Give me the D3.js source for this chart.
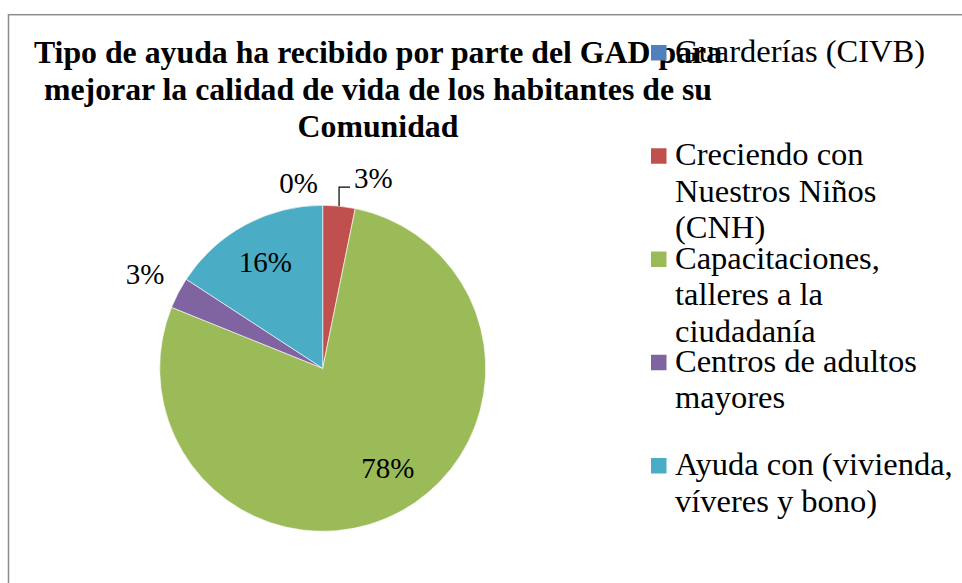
<!DOCTYPE html>
<html>
<head>
<meta charset="utf-8">
<script src="https://cdn.jsdelivr.net/npm/d3@7"></script>
<style>
  html, body { margin: 0; padding: 0; background: #fff; }
  svg { display: block; }
  svg text { font-family: "Liberation Serif", "Times New Roman", "DejaVu Serif", serif; }
</style>
</head>
<body>
<svg id="chart" width="962" height="583"></svg>
<script>
// ---- data ----
const categories = [
  "Guarderías (CIVB)",
  "Creciendo con Nuestros Niños (CNH)",
  "Capacitaciones, talleres a la ciudadanía",
  "Centros de adultos mayores",
  "Ayuda con (vivienda, víveres y bono)"
];
const values = [0, 3.2, 77.9, 3.1, 15.8];
const legendLines = [
  ["Guarderías (CIVB)"],
  ["Creciendo con", "Nuestros Niños", "(CNH)"],
  ["Capacitaciones,", "talleres a la", "ciudadanía"],
  ["Centros de adultos", "mayores"],
  ["Ayuda con (vivienda,", "víveres y bono)"]
];
const titleLines = [
  "Tipo de ayuda ha recibido por parte del GAD para",
  "mejorar la calidad de vida de los habitantes de su",
  "Comunidad"
];
const colors = ["#4F81BD", "#C0504D", "#9BBB59", "#8064A2", "#4BACC6"];

// ---- layout ----
const svg = d3.select("#chart");
const cx = 322.7, cy = 368.3, R = 163;

// chart border
svg.append("rect")
  .attr("x", 8.5).attr("y", 14.7)
  .attr("width", 1000).attr("height", 1000)
  .attr("fill", "none").attr("stroke", "#8c8c8c").attr("stroke-width", 1.5);

// title
const title = svg.append("text")
  .attr("font-weight", "bold")
  .attr("font-size", 31.8).attr("text-anchor", "middle").attr("fill", "#000");
titleLines.forEach((t, i) => {
  title.append("tspan").attr("x", 378).attr("y", 63 + i * 37).text(t);
});

// pie
const total = d3.sum(values);
const pie = d3.pie().sort(null).value(d => d).startAngle(0).endAngle(2 * Math.PI);
const arcs = pie(values);
const arc = d3.arc().innerRadius(0).outerRadius(R);
const colorScale = d3.scaleOrdinal().domain(categories).range(colors);

const g = svg.append("g").attr("transform", `translate(${cx},${cy})`);
g.selectAll("path.slice").data(arcs).enter().append("path")
  .attr("class", "slice")
  .attr("d", arc)
  .attr("fill", (d, i) => colorScale(categories[i]))
  .attr("stroke", "#fff").attr("stroke-width", 0.6);

// labels
const fmt = d3.format(".0%");
const labelSize = 29;
function polar(a, r) { return [Math.sin(a) * r, -Math.cos(a) * r]; }

arcs.forEach((d, i) => {
  const mid = (d.startAngle + d.endAngle) / 2;
  const txt = fmt(d.value / total);
  let x, y, anchor = "middle";
  if (i === 2) {
    [x, y] = polar(mid, R * 0.69);
    x += 12;
  } else if (i === 4) {
    [x, y] = polar(mid, R * 0.74);
  } else if (i === 0) {
    [x, y] = polar(mid, R * 1.14);
    x -= 24;
  } else if (i === 1) {
    const [px, py] = polar(mid, R);
    const ly = py - 19;
    g.append("path")
      .attr("d", `M${px},${py}V${ly}H${px + 11}`)
      .attr("fill", "none").attr("stroke", "#000").attr("stroke-width", 1.2);
    x = px + 15; y = ly - 9; anchor = "start";
  } else {
    [x, y] = polar(mid, R * 1.25);
    x += 3;
  }
  g.append("text")
    .attr("x", x).attr("y", y + labelSize * 0.35)
    .attr("text-anchor", anchor)
    .attr("font-size", labelSize)
    .attr("fill", "#000")
    .text(txt);
});

// legend
const ly = d3.scalePoint().domain(categories).range([62, 475]);
const leg = svg.append("g");
categories.forEach((c, i) => {
  const base = ly(c);
  leg.append("rect")
    .attr("x", 651).attr("y", base - 17)
    .attr("width", 15.5).attr("height", 15.5)
    .attr("fill", colorScale(c));
  const t = leg.append("text")
    .attr("font-size", 32.5).attr("fill", "#000");
  legendLines[i].forEach((line, j) => {
    t.append("tspan").attr("x", 675).attr("y", base + j * 36.6).text(line);
  });
});
</script>
</body>
</html>
